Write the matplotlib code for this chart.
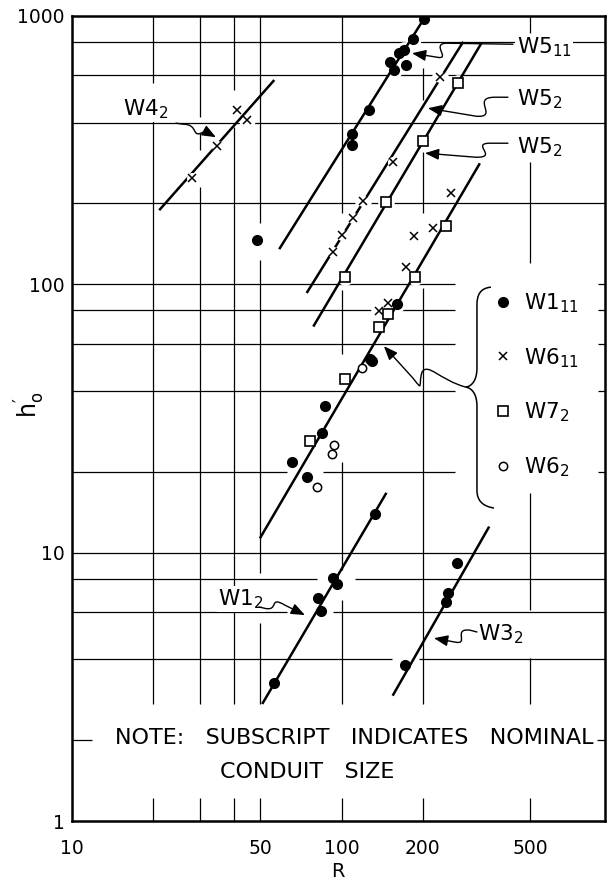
import matplotlib
matplotlib.use("Agg")
import matplotlib.pyplot as plt
from matplotlib.path import Path
from matplotlib.patches import FancyArrowPatch, PathPatch
from matplotlib.lines import Line2D

plt.rcParams["font.family"] = ["DejaVu Sans"]
plt.rcParams["mathtext.default"] = "regular"

R_MIN, R_MAX = 10, 945
H_MIN, H_MAX = 1, 1000

# measured points, one list pair per conduit / marker type
w4_2_r = [27.8, 34.4, 40.8, 44.5]
w4_2_h = [249.6, 327.4, 444.6, 408.6]

w5_11_r = [202, 183, 169.5, 162.6, 151, 156.4, 172.8, 126, 108.9, 108.9]
w5_11_h = [970, 822, 748, 727, 673, 627, 658, 444.6, 364, 329.6]

w5_2a_r = [93.1, 100.5, 110.4, 120.1, 154.5, 230.6]
w5_2a_h = [131.3, 151.8, 175.7, 204.3, 285.5, 588.8]

w5_2b_r = [102.8, 146, 199.5, 269.6]
w5_2b_h = [105.9, 202.5, 340.8, 559.3]

w1_11_r = [160, 130, 127, 86.7, 84.3, 65.3, 74.2, 48.7]
w1_11_h = [84.2, 51.8, 52.4, 35.1, 27.8, 21.8, 19.05, 145.8]

w6_11_r = [255, 218, 186, 173, 137.5, 148.6]
w6_11_h = [218.8, 162, 151.4, 116, 79.6, 85]

w7_2_r = [243, 187, 149, 137.5, 102.8, 76.3]
w7_2_h = [164.4, 105.9, 77.1, 69.3, 44.2, 26.1]

w6_2_r = [119, 94, 92.3, 81.2]
w6_2_h = [48.8, 25.1, 23.2, 17.5]

w1_2_r = [132.8, 93.1, 96.3, 81.9, 83.6, 56.3]
w1_2_h = [13.88, 8.06, 7.63, 6.75, 6.07, 3.26]

w3_2_r = [268, 248, 243, 171.5]
w3_2_h = [9.12, 7.09, 6.56, 3.81]

# fitted lines: (R ends, h ends)
fits = [
    ([21.1, 56.3], [188.6, 576]),
    ([58.7, 205], [135, 1000]),
    ([74.2, 282], [92.7, 800]),
    ([78.5, 330], [69.5, 793]),
    ([49.8, 325], [11.3, 282]),
    ([50.8, 146.5], [2.73, 16.7]),
    ([154.5, 352], [2.93, 12.5]),
]

x_ticks = [10, 50, 100, 200, 500]
y_ticks = [1, 10, 100, 1000]

# hand-drawn grid, broken where labels and curves cross it
h_grid = {
    800: [(R_MIN, R_MAX)],
    600: [(R_MIN, R_MAX)],
    400: [(R_MIN, R_MAX)],
    200: [(R_MIN, R_MAX)],
    100: [(R_MIN, 263), (890, R_MAX)],
    80: [(R_MIN, 263), (890, R_MAX)],
    60: [(R_MIN, 263), (890, R_MAX)],
    40: [(R_MIN, 263), (890, R_MAX)],
    20: [(R_MIN, 62.7), (85, 263), (890, R_MAX)],
    10: [(R_MIN, R_MAX)],
    8: [(R_MIN, 81), (112, R_MAX)],
    6: [(R_MIN, 62.7), (92.6, R_MAX)],
    4: [(R_MIN, 153), (194, R_MAX)],
    2: [(R_MIN, 11.9), (880, R_MAX)],
}
v_grid = {
    20: [(1, 1.22), (2.73, 497), (561, 1000)],
    30: [(1, 1.22), (2.73, 230), (316, 365), (419, 1000)],
    40: [(1, 1.22), (2.73, 384), (528, 1000)],
    50: [(1, 1.22), (2.73, 5.46), (8.39, 122.8), (168.8, 1000)],
    100: [(1, 1.22), (2.73, 6.65), (8.61, 21.7), (55, 95), (184, 1000)],
    200: [(1, 1.22), (2.73, 97), (184, 310), (484, 637)],
    500: [(1, 1.22), (2.73, 4.05), (6.11, 16.7), (120, 285), (860, 1000)],
}

fig = plt.figure(figsize=(6.1, 8.83), dpi=100)
ax = fig.add_axes([0.1175, 0.0702, 0.8743, 0.9120])
ax.set_xscale("log")
ax.set_yscale("log")
ax.set_xlim(R_MIN, R_MAX)
ax.set_ylim(H_MIN, H_MAX)

for y, spans in h_grid.items():
    for a, b in spans:
        ax.plot([a, b], [y, y], color="k", lw=0.9, zorder=1, solid_capstyle="butt")
for x, spans in v_grid.items():
    for a, b in spans:
        ax.plot([x, x], [a, b], color="k", lw=0.9, zorder=1, solid_capstyle="butt")

all_r = (w4_2_r + w5_11_r + w5_2a_r + w5_2b_r + w1_11_r + w6_11_r + w7_2_r
         + w6_2_r + w1_2_r + w3_2_r)
all_h = (w4_2_h + w5_11_h + w5_2a_h + w5_2b_h + w1_11_h + w6_11_h + w7_2_h
         + w6_2_h + w1_2_h + w3_2_h)
ax.plot(all_r, all_h, "o", ms=12, mfc="white", mec="none", zorder=1.5)

for r, h in fits:
    ax.plot(r, h, color="k", lw=1.8, zorder=2, solid_capstyle="butt")

# crosses sit in small breaks of their line
for r, h in [(w4_2_r, w4_2_h), (w5_2a_r, w5_2a_h), (w6_11_r, w6_11_h)]:
    ax.plot(r, h, "o", ms=8, mfc="white", mec="none", zorder=2.5)

filled = dict(ls="none", marker="o", ms=7, color="k", zorder=3)
cross = dict(ls="none", marker="x", ms=5.5, mew=1.1, color="k", zorder=3)
square = dict(ls="none", marker="s", ms=6.5, mfc="white", mec="k", mew=1.2, zorder=3)
ring = dict(ls="none", marker="o", ms=6, mfc="white", mec="k", mew=1.1, zorder=3)

ax.plot(w4_2_r, w4_2_h, **cross)
ax.plot(w5_11_r, w5_11_h, **filled)
ax.plot(w5_2a_r, w5_2a_h, **cross)
ax.plot(w5_2b_r, w5_2b_h, **square)
ax.plot(w1_11_r, w1_11_h, **filled)
ax.plot(w6_11_r, w6_11_h, **cross)
ax.plot(w7_2_r, w7_2_h, **square)
ax.plot(w6_2_r, w6_2_h, **ring)
ax.plot(w1_2_r, w1_2_h, **filled)
ax.plot(w3_2_r, w3_2_h, **filled)

label_kw = dict(fontsize=15.5, ha="left", va="baseline", zorder=4,
                bbox=dict(fc="white", ec="none", pad=1.0))
ax.text(445, 724, r"W5$_{11}$", **label_kw)
ax.text(446, 464, r"W5$_{2}$", **label_kw)
ax.text(446, 307, r"W5$_{2}$", **label_kw)
ax.text(15.5, 426, r"W4$_{2}$", **label_kw)
ax.text(34.9, 6.37, r"W1$_{2}$", **label_kw)
ax.text(320.6, 4.69, r"W3$_{2}$", **label_kw)


def leader(points):
    codes = [Path.MOVETO, Path.LINETO, Path.CURVE4, Path.CURVE4, Path.CURVE4,
             Path.LINETO]
    ax.add_patch(FancyArrowPatch(
        path=Path(points, codes),
        arrowstyle="-|>,head_length=0.7,head_width=0.28",
        mutation_scale=12, lw=1.0, color="k", zorder=5))


leader([(431, 783), (245.5, 790), (212.3, 790), (256.2, 683), (225.4, 700.6), (182.2, 725)])
leader([(413, 497), (369.7, 497), (298.7, 497), (385.9, 415.5), (314.4, 422.4), (208.7, 452.4)])
leader([(413, 335), (354.2, 335), (298.7, 335), (385.9, 294.7), (311.7, 297.2), (203.5, 307.6)])
leader([(24.33, 397.8), (25.84, 394.4), (29.87, 394.4), (27.43, 343.9), (31.17, 371.5), (34.22, 352.7)])
leader([(49.4, 6.27), (51.55, 6.21), (59.08, 6.00), (53.33, 6.95), (61.66, 6.37), (73.1, 5.85)])
leader([(317.1, 5.06), (298.7, 5.14), (256.2, 5.23), (298.7, 4.52), (262.8, 4.64), (219.8, 4.80)])

# brace gathering the four marker types onto the main line
brace_pts = [(357.2, 97.45),
             (325.2, 96.6), (317.1, 91.0), (317.1, 83.5),
             (317.1, 48.7),
             (317.1, 43.9), (303.9, 41.7), (288.6, 41.33),
             (303.9, 41.0), (317.1, 38.93), (317.1, 35.1),
             (317.1, 17.09),
             (317.1, 15.69), (330.8, 14.9), (366.6, 14.65)]
brace_codes = ([Path.MOVETO] + [Path.CURVE4] * 3 + [Path.LINETO] + [Path.CURVE4] * 6
               + [Path.LINETO] + [Path.CURVE4] * 3)
ax.add_patch(PathPatch(Path(brace_pts, brace_codes), fc="none", ec="k", lw=1.1, zorder=4))

brace_lead = [(288.6, 41.33),
              (231.3, 43.9), (208.7, 51.2), (198.4, 47.0),
              (191.8, 42.06), (201.7, 39.6), (183.7, 44.66),
              (143.4, 58.76)]
brace_lead_codes = [Path.MOVETO] + [Path.CURVE4] * 6 + [Path.LINETO]
ax.add_patch(FancyArrowPatch(
    path=Path(brace_lead, brace_lead_codes),
    arrowstyle="-|>,head_length=0.7,head_width=0.28",
    mutation_scale=12, lw=1.0, color="k", zorder=5))

handles = [Line2D([], [], **{k: v for k, v in filled.items() if k != "zorder"}),
           Line2D([], [], **{k: v for k, v in cross.items() if k != "zorder"}),
           Line2D([], [], **{k: v for k, v in square.items() if k != "zorder"}),
           Line2D([], [], **{k: v for k, v in ring.items() if k != "zorder"})]
labels = [r"W1$_{11}$", r"W6$_{11}$", r"W7$_{2}$", r"W6$_{2}$"]
ax.legend(handles, labels, loc="upper left", bbox_to_anchor=(0.792, 0.658),
          frameon=False, fontsize=15.5, handlelength=0.8, handletextpad=0.6,
          labelspacing=1.45, borderpad=0, borderaxespad=0)

ax.text(0.081, 0.0956, "NOTE:   SUBSCRIPT   INDICATES   NOMINAL",
        transform=ax.transAxes, fontsize=16, ha="left", va="baseline")
ax.text(0.278, 0.0534, "CONDUIT   SIZE",
        transform=ax.transAxes, fontsize=16, ha="left", va="baseline")

ax.set_xticks(x_ticks)
ax.set_xticklabels([str(t) for t in x_ticks])
ax.set_yticks(y_ticks)
ax.set_yticklabels([str(t) for t in y_ticks])
ax.minorticks_off()
ax.tick_params(axis="both", length=0, labelsize=13.5)
ax.tick_params(axis="x", pad=13)
ax.tick_params(axis="y", pad=5)
for spine in ax.spines.values():
    spine.set_linewidth(1.8)

ax.set_xlabel("R", fontsize=14, labelpad=2.5)
ax.set_ylabel(r"$h_o^{\prime}$", fontsize=17, rotation=90, va="center", ha="center")
ax.yaxis.set_label_coords(-0.078, 0.517)

fig.savefig("out.png", dpi=100)
